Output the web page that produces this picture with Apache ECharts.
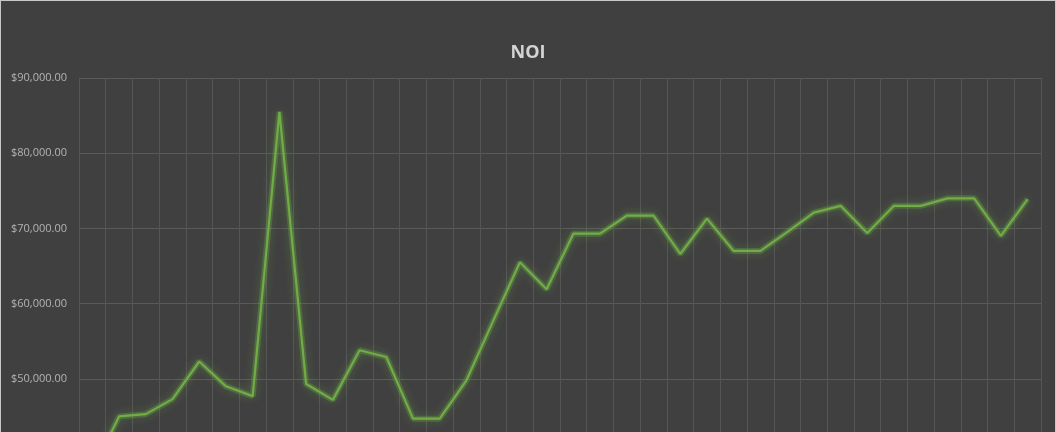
<!DOCTYPE html>
<html>
<head>
<meta charset="utf-8">
<script src="https://cdn.jsdelivr.net/npm/echarts@6/dist/echarts.min.js"></script>
<style>
    html, body { margin: 0; padding: 0; background: #404040; overflow: hidden; }
    #chart {
        width: 1054px;
        height: 520px;
        border: 1px solid #c8c8c8;
        border-bottom: none;
        background: #404040;
    }
</style>
</head>
<body>
<div id="chart"></div>
<script>
// periods (x axis labels fall below the visible area)
const periods = [
    'P1', 'P2', 'P3', 'P4', 'P5', 'P6', 'P7', 'P8', 'P9', 'P10', 'P11', 'P12',
    'P13', 'P14', 'P15', 'P16', 'P17', 'P18', 'P19', 'P20', 'P21', 'P22', 'P23', 'P24',
    'P25', 'P26', 'P27', 'P28', 'P29', 'P30', 'P31', 'P32', 'P33', 'P34', 'P35', 'P36'
];

const noi = [
    37800, 45000, 45300, 47300, 52300, 49000, 47700, 85500, 49300, 47200, 53800, 52900,
    44700, 44700, 49800, 57700, 65500, 61900, 69300, 69300, 71700, 71700, 66600, 71300,
    67000, 67000, 69500, 72100, 73000, 69400, 73000, 73000, 74000, 74000, 69000, 73900
];

const yMin = 40000;
const yMax = 90000;
const yStep = 10000;

const money = v => '$' + Math.round(v).toString().replace(/\B(?=(\d{3})+(?!\d))/g, ',') + '.00';

let chartDom = document.getElementById('chart');
let myChart = echarts.init(chartDom);
let option;

option = {
    backgroundColor: '#404040',
    animation: false,
    title: {
        text: 'NOI',
        left: 'center',
        top: 38,
        textStyle: {
            color: '#d4d4d4',
            fontSize: 18,
            fontWeight: 'bold',
            fontFamily: 'Open Sans'
        }
    },
    grid: {
        top: 77,
        left: 78,
        right: 14,
        bottom: 67,
        containLabel: false
    },
    xAxis: {
        type: 'category',
        boundaryGap: true,
        data: periods,
        axisLine: { show: false },
        axisTick: { show: false },
        axisLabel: { show: false },
        splitLine: {
            show: true,
            interval: 0,
            lineStyle: { color: '#555555', width: 1 }
        }
    },
    yAxis: {
        type: 'value',
        min: yMin,
        max: yMax,
        interval: yStep,
        axisLine: { show: false },
        axisTick: { show: false },
        axisLabel: {
            color: '#b3b3b3',
            fontSize: 11,
            fontFamily: 'Open Sans',
            margin: 12,
            formatter: money
        },
        splitLine: {
            lineStyle: { color: '#5a5a5a', width: 1 }
        }
    },
    series: [
        // soft glow under the line
        {
            name: 'glow',
            type: 'line',
            data: noi,
            symbol: 'none',
            silent: true,
            lineStyle: {
                color: 'rgba(112, 173, 71, 0.3)',
                width: 6,
                shadowColor: 'rgba(112, 173, 71, 0.9)',
                shadowBlur: 10
            }
        },
        {
            name: 'NOI',
            type: 'line',
            data: noi,
            symbol: 'none',
            lineStyle: {
                color: '#70ad47',
                width: 2.2
            }
        }
    ]
};

option && myChart.setOption(option);
</script>
</body>
</html>
